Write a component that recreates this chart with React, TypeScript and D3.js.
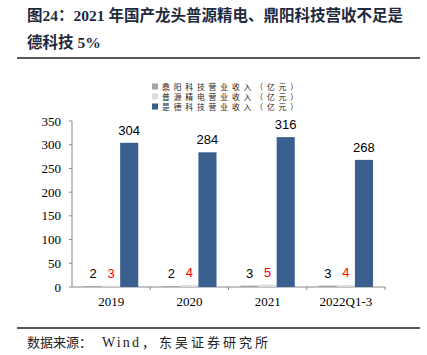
import React from "react";
import * as d3 from "d3";

const categories = ["2019", "2020", "2021", "2022Q1-3"];
const seriesNames = [
  "鼎阳科技营业收入（亿元）",
  "普源精电营业收入（亿元）",
  "是德科技营业收入（亿元）",
];
const dingyang = [2, 2, 3, 3];
const puyuan = [3, 4, 5, 4];
const keysight = [304, 284, 316, 268];
const yTicks = [0, 50, 100, 150, 200, 250, 300, 350];
const colors = ["#a6a6a6", "#dcdcdc", "#3a5f8f"];
const labelColors = ["#000000", "#ff0000", "#000000"];

export default function App() {
  const W = 427, H = 355;
  const left = 72, right = 385, top = 121, bottom = 287;
  const x = d3.scaleBand<string>().domain(categories).range([left, right]).paddingInner(0).paddingOuter(0);
  const inner = d3.scaleBand<number>().domain([0, 1, 2]).range([12, x.bandwidth() - 12]).padding(0);
  const y = d3.scaleLinear().domain([0, 350]).range([bottom, top]);
  const series = [dingyang, puyuan, keysight];
  const serif = "'Liberation Serif', 'Times New Roman', serif";
  const cjk = "'Noto Sans CJK SC', sans-serif";

  return (
    <svg width={W} height={H} style={{ position: "absolute", left: 0, top: 0, background: "#fff" }}>
      <text x={27} y={21} fontFamily={`${serif}, 'Noto Sans CJK SC'`} fontWeight="bold" fontSize={15.5} fill="#1e2a3e">
        图24：2021 年国产龙头普源精电、鼎阳科技营收不足是
      </text>
      <text x={27} y={48} fontFamily={`${serif}, 'Noto Sans CJK SC'`} fontWeight="bold" fontSize={15.5} fill="#1e2a3e">
        德科技 5%
      </text>
      <line x1={17} x2={420} y1={58} y2={58} stroke="#222" strokeWidth={1.5} />

      {/* legend */}
      {seriesNames.map((n, i) => (
        <g key={n}>
          <rect x={152} y={83.5 + i * 10} width={6} height={6} fill={colors[i]} />
          <text x={162} y={89.5 + i * 10} fontFamily={cjk} fontSize={7.8} textLength={136} lengthAdjust="spacing" fill="#222">{n}</text>
        </g>
      ))}

      {/* y axis */}
      <line x1={left} x2={left} y1={top} y2={bottom} stroke="#888" />
      {yTicks.map((t) => (
        <g key={t}>
          <line x1={left - 3} x2={left} y1={y(t)} y2={y(t)} stroke="#888" />
          <text x={left - 11} y={y(t) + 4.5} textAnchor="end" fontFamily={serif} fontSize={13} fill="#000">{t}</text>
        </g>
      ))}
      {/* x axis */}
      <line x1={left} x2={right} y1={bottom} y2={bottom} stroke="#888" />
      {categories.map((c) => (
        <line key={"t" + c} x1={(x(c) as number) + x.bandwidth()} x2={(x(c) as number) + x.bandwidth()} y1={bottom} y2={bottom + 3} stroke="#888" />
      ))}
      {categories.map((c, ci) =>
        series.map((s, si) => {
          const bx = (x(c) as number) + (inner(si) as number);
          const bw = inner.bandwidth();
          const v = s[ci];
          return (
            <g key={c + si}>
              <rect x={bx} y={y(v)} width={bw} height={bottom - y(v)} fill={colors[si]} />
              <text x={bx + bw / 2} y={y(v) - 8} textAnchor="middle" fontFamily="'Liberation Sans', Arial, sans-serif" fontSize={13} fill={labelColors[si]}>{v}</text>
            </g>
          );
        })
      )}
      {categories.map((c) => (
        <text key={"l" + c} x={(x(c) as number) + x.bandwidth() / 2} y={306} textAnchor="middle" fontFamily={serif} fontSize={13} fill="#000">{c}</text>
      ))}

      <line x1={17} x2={420} y1={328} y2={328} stroke="#222" strokeWidth={1.5} />
      <g fontFamily={`${serif}, 'Noto Sans CJK SC'`} fontSize={13} fill="#222">
        <text x={27} y={347}>数据来源：</text>
        <text x={102} y={347} fontSize={14} textLength={37} lengthAdjust="spacing">Wind</text>
        <text x={142} y={347}>，</text>
        <text x={159} y={347} textLength={109} lengthAdjust="spacing">东吴证券研究所</text>
      </g>
    </svg>
  );
}
